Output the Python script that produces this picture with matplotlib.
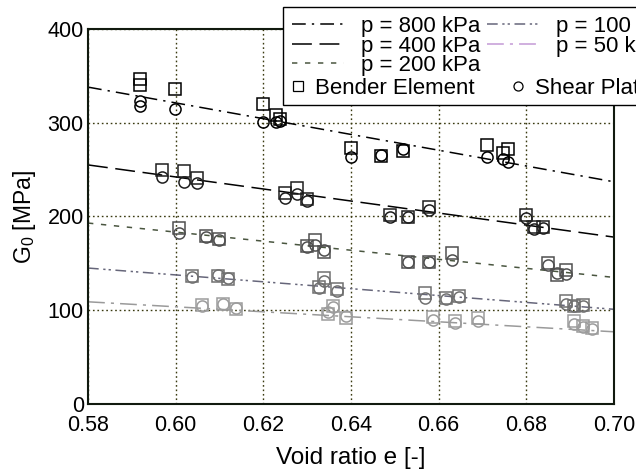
import matplotlib
matplotlib.use("Agg")
import matplotlib.pyplot as plt
from matplotlib.lines import Line2D

plt.rcParams['font.family'] = ['Liberation Sans', 'DejaVu Sans']
plt.rcParams['mathtext.fontset'] = 'custom'
plt.rcParams['mathtext.rm'] = 'Liberation Sans'
plt.rcParams['mathtext.it'] = 'Liberation Sans:italic'

# pressures and measured points (void ratio, G0 from bender element / shear plate)
pressures = [800, 400, 200, 100, 50]

e_800 = [0.5919, 0.5919, 0.5999, 0.6200, 0.6229, 0.6238, 0.6400, 0.6469, 0.6519, 0.6710, 0.6747, 0.6758]
be_800 = [347, 340, 336, 320, 308, 304, 273, 264, 270, 276, 268, 272]
sp_800 = [323, 318, 315, 301, 301, 302, 263, 266, 272, 263, 261, 258]

e_400 = [0.5969, 0.6019, 0.6049, 0.6249, 0.6277, 0.6300, 0.6489, 0.6530, 0.6578, 0.6800, 0.6818, 0.6838]
be_400 = [250, 249, 241, 225, 230, 219, 202, 199, 210, 202, 189, 189]
sp_400 = [242, 237, 236, 220, 224, 216, 199, 199, 207, 198, 187, 188]

e_200 = [0.6008, 0.6069, 0.6099, 0.6300, 0.6318, 0.6338, 0.6530, 0.6578, 0.6630, 0.6850, 0.6870, 0.6890]
be_200 = [188, 179, 176, 168, 175, 162, 151, 151, 161, 150, 138, 143]
sp_200 = [182, 178, 175, 167, 170, 164, 151, 151, 154, 148, 140, 139]

e_100 = [0.6037, 0.6097, 0.6119, 0.6327, 0.6338, 0.6368, 0.6569, 0.6617, 0.6647, 0.6890, 0.6909, 0.6929]
be_100 = [136, 137, 133, 125, 134, 123, 118, 113, 115, 110, 104, 106]
sp_100 = [135, 138, 134, 124, 131, 121, 113, 112, 114, 107, 104, 104]

e_50 = [0.6060, 0.6108, 0.6138, 0.6348, 0.6359, 0.6389, 0.6588, 0.6637, 0.6690, 0.6909, 0.6929, 0.6950]
be_50 = [106, 107, 101, 96, 105, 92, 93, 89, 92, 88, 83, 81]
sp_50 = [105, 107, 102, 98, 103, 94, 90, 86, 88, 85, 82, 80]

# fitted lines read at the axis ends
e_fit = [0.58, 0.70]
fit_800 = [338, 237]
fit_400 = [255, 178]
fit_200 = [193, 135]
fit_100 = [145, 101]
fit_50 = [109, 77]

x_ticks = [0.58, 0.60, 0.62, 0.64, 0.66, 0.68, 0.70]
y_ticks = [0, 100, 200, 300, 400]

e_all = [e_800, e_400, e_200, e_100, e_50]
be_all = [be_800, be_400, be_200, be_100, be_50]
sp_all = [sp_800, sp_400, sp_200, sp_100, sp_50]
fit_all = [fit_800, fit_400, fit_200, fit_100, fit_50]

line_colors = ['black', 'black', '#4a5640', '#66667a', '#9a9a9a']
legend_colors = ['black', 'black', '#4a5640', '#66667a', '#c49ad6']
line_styles = [(0, (9, 4, 1.5, 4)), (0, (13, 5)), (0, (3.5, 5)),
               (0, (7, 3, 1.5, 2, 1.5, 3)), (0, (11, 4, 2, 4))]
marker_colors = ['black', '#1e1e1e', '#4f4f4f', '#707070', '#9c9c9c']

fig = plt.figure(figsize=(6.36, 4.72), dpi=100)
ax = fig.add_axes([0.1384, 0.1441, 0.8270, 0.7945])

for i in range(len(pressures)):
    ax.plot(e_fit, fit_all[i], color=line_colors[i], linestyle=line_styles[i], lw=1.1)
    ax.plot(e_all[i], be_all[i], linestyle='none', marker='s', ms=8, mfc='none',
            mec=marker_colors[i], mew=1.1)
    ax.plot(e_all[i], sp_all[i], linestyle='none', marker='o', ms=8, mfc='none',
            mec=marker_colors[i], mew=1.1)

ax.set_xlim(0.58, 0.70)
ax.set_ylim(0, 400)
ax.set_xticks(x_ticks)
ax.set_xticklabels(['%.2f' % v for v in x_ticks])
ax.set_yticks(y_ticks)
ax.tick_params(length=0, labelsize=15.5, pad=3)
ax.tick_params(axis='x', pad=8)
ax.grid(True, linestyle=(0, (1.2, 2)), color='#3a3a10', lw=1.0)
for s in ax.spines.values():
    s.set_linewidth(1.5)
    s.set_color('#111a0f')
ax.set_xlabel('Void ratio e [-]', fontsize=17.5, labelpad=8)
ax.set_ylabel('G$_0$ [MPa]', fontsize=16.5, labelpad=7)

fs = 16
blank = Line2D([], [], alpha=0)
lh = [Line2D([], [], color=legend_colors[i], linestyle=line_styles[i], lw=1.1)
      for i in range(len(pressures))]
handles = [lh[0], lh[1], lh[2], blank, lh[3], lh[4], blank, blank]
labels = ['p = %d kPa' % p for p in pressures[:3]] + [''] + \
         ['p = %d kPa' % p for p in pressures[3:]] + ['', '']
leg = fig.legend(handles, labels, ncol=2, loc='upper left',
                 bbox_to_anchor=(283 / 636, 1 - 7 / 472), fontsize=fs,
                 frameon=True, fancybox=False, edgecolor='black', framealpha=1,
                 handlelength=2.35, handletextpad=0.75, columnspacing=0.3,
                 labelspacing=-0.06, borderpad=0.4, borderaxespad=0)
leg.get_frame().set_linewidth(1.0)

mh = [Line2D([], [], linestyle='none', marker='s', ms=6.5, mfc='none', mec='black', mew=0.9),
      Line2D([], [], linestyle='none', marker='o', ms=6.5, mfc='none', mec='black', mew=0.9)]
leg2 = fig.legend(mh, ['Bender Element', 'Shear Plate'], ncol=2, loc='upper left',
                  bbox_to_anchor=(290 / 636, 1 - 78 / 472), fontsize=fs,
                  frameon=False, handlelength=0.7, handletextpad=0.43,
                  columnspacing=1.6, borderpad=0, borderaxespad=0)

fig.savefig('out.png', dpi=100)
